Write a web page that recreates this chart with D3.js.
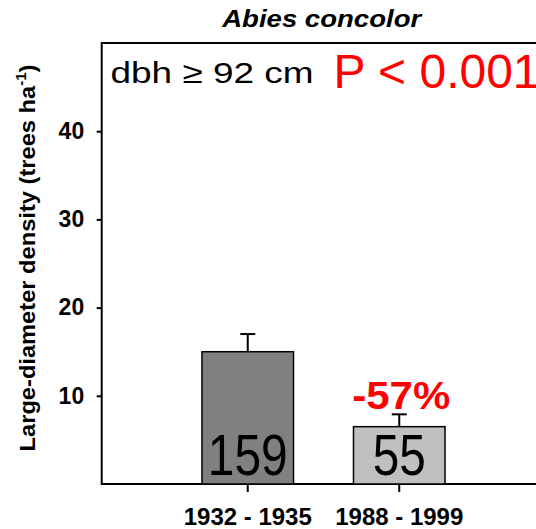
<!DOCTYPE html>
<html>
<head>
<meta charset="utf-8">
<script src="https://cdn.jsdelivr.net/npm/d3@7"></script>
<style>
  body { margin: 0; background: #fff; }
  text { font-family: "Liberation Sans", Arial, sans-serif; }
</style>
</head>
<body>
<svg id="chart" width="536" height="529"></svg>
<script>
"use strict";

const periods = ["1932 - 1935", "1988 - 1999"];
const density = [15.0, 6.5];
const densityErr = [2.0, 1.4];
const plotCounts = ["159", "55"];
const yTicks = [10, 20, 30, 40];
const changeLabel = "-57%";
const barColors = ["#808080", "#c0c0c0"];

const svg = d3.select("#chart");
const margin = { left: 101.7, top: 43 };
const w = 443.6, h = 441;

const x = d3.scaleBand()
    .domain(periods)
    .range([margin.left, margin.left + w])
    .paddingInner(0.396)
    .paddingOuter(0.662);

const y = d3.scaleLinear()
    .domain([0, 50])
    .range([margin.top + h, margin.top]);

// frame (right side falls outside the picture)
svg.append("rect")
    .attr("x", margin.left)
    .attr("y", margin.top)
    .attr("width", w)
    .attr("height", h)
    .attr("fill", "none")
    .attr("stroke", "#000")
    .attr("stroke-width", 2);

// bars
svg.selectAll(".bar")
    .data(periods)
    .enter()
    .append("rect")
    .attr("class", "bar")
    .attr("x", d => x(d))
    .attr("width", x.bandwidth())
    .attr("y", (d, i) => y(density[i]))
    .attr("height", (d, i) => y(0) - y(density[i]))
    .attr("fill", (d, i) => barColors[i])
    .attr("stroke", "#000")
    .attr("stroke-width", 1.5);

// upper error bars
const capW = 15;
periods.forEach((p, i) => {
    const cx = x(p) + x.bandwidth() / 2;
    const top = y(density[i] + densityErr[i]);
    svg.append("line")
        .attr("x1", cx).attr("x2", cx)
        .attr("y1", y(density[i])).attr("y2", top)
        .attr("stroke", "#000").attr("stroke-width", 2);
    svg.append("line")
        .attr("x1", cx - capW / 2).attr("x2", cx + capW / 2)
        .attr("y1", top).attr("y2", top)
        .attr("stroke", "#000").attr("stroke-width", 2);
});

// counts inside bars
const countLen = [80, 53];
svg.selectAll(".count")
    .data(periods)
    .enter()
    .append("text")
    .attr("class", "count")
    .attr("x", d => x(d) + x.bandwidth() / 2)
    .attr("y", y(0) - 9)
    .attr("text-anchor", "middle")
    .attr("font-size", 58)
    .attr("textLength", (d, i) => countLen[i])
    .attr("lengthAdjust", "spacingAndGlyphs")
    .text((d, i) => plotCounts[i]);

// percent change above second bar
svg.append("text")
    .attr("x", x(periods[1]) + x.bandwidth() / 2 + 2)
    .attr("y", y(density[1] + densityErr[1]) - 5)
    .attr("text-anchor", "middle")
    .attr("font-size", 38)
    .attr("font-weight", "bold")
    .attr("fill", "#ff0000")
    .attr("textLength", 98)
    .attr("lengthAdjust", "spacingAndGlyphs")
    .text(changeLabel);

// y axis
const yAxis = svg.append("g")
    .attr("transform", `translate(${margin.left},0)`)
    .call(d3.axisLeft(y).tickValues(yTicks).tickSize(5).tickPadding(12.5));
yAxis.select(".domain").remove();
yAxis.selectAll("line").attr("stroke-width", 2);
yAxis.selectAll("text")
    .attr("font-family", "Liberation Sans, Arial, sans-serif")
    .attr("font-size", 23)
    .attr("font-weight", "bold")
    .attr("fill", "#000");

// x axis
const xAxis = svg.append("g")
    .attr("transform", `translate(0,${y(0)})`)
    .call(d3.axisBottom(x).tickSize(8).tickSizeOuter(0).tickPadding(16.3));
xAxis.select(".domain").remove();
xAxis.selectAll("line").attr("stroke-width", 2);
xAxis.selectAll("text")
    .attr("font-family", "Liberation Sans, Arial, sans-serif")
    .attr("font-size", 24)
    .attr("font-weight", "bold")
    .attr("fill", "#000");

// y axis title
const yTitle = svg.append("text")
    .attr("text-anchor", "middle")
    .attr("font-size", 22)
    .attr("font-weight", "bold");
yTitle.append("tspan").text("Large-diameter density (trees ha");
yTitle.append("tspan").attr("font-size", 14).attr("dy", -9).text("-1");
yTitle.append("tspan").attr("dy", 9).text(")");
const tLen = yTitle.node().getComputedTextLength();
yTitle.attr("transform", `translate(35,258) rotate(-90) scale(${387 / tLen},1)`);

// title
svg.append("text")
    .attr("x", 321.7)
    .attr("y", 26.7)
    .attr("text-anchor", "middle")
    .attr("font-size", 23.5)
    .attr("font-weight", "bold")
    .attr("font-style", "italic")
    .attr("textLength", 199)
    .attr("lengthAdjust", "spacingAndGlyphs")
    .text("Abies concolor");

// annotations
svg.append("text")
    .attr("x", 110.5)
    .attr("y", 82.7)
    .attr("font-size", 30)
    .attr("textLength", 203)
    .attr("lengthAdjust", "spacingAndGlyphs")
    .text("dbh \u2265 92 cm");

svg.append("text")
    .attr("x", 333.6)
    .attr("y", 88.3)
    .attr("font-size", 48)
    .attr("fill", "#ff0000")
    .text("P < 0.001");
</script>
</body>
</html>
